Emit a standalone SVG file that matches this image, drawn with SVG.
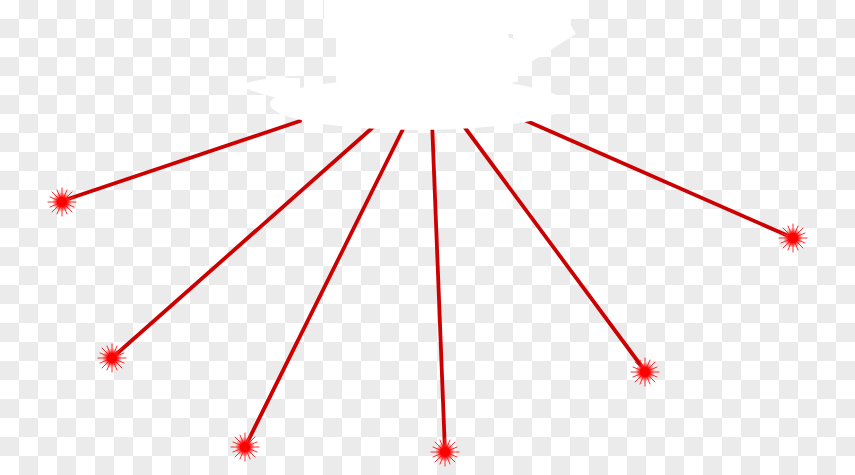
<svg xmlns="http://www.w3.org/2000/svg" xmlns:xlink="http://www.w3.org/1999/xlink" width="855" height="475" viewBox="0 0 855 475">
<style>
.beam{stroke:#cc0000;stroke-width:3.8;stroke-linecap:round;fill:none}
.ray{stroke:#ff2a2a;stroke-width:1;stroke-linecap:round}
.ufo{fill:#ffffff;stroke:none}
</style>
<defs>
<pattern id="checker" x="0" y="0" width="38" height="38" patternUnits="userSpaceOnUse">
<rect width="38" height="38" fill="#ffffff"/>
<rect x="19" y="0" width="19" height="19" fill="#ebebeb"/>
<rect x="0" y="19" width="19" height="19" fill="#ebebeb"/>
</pattern>
<radialGradient id="glow">
<stop offset="0" stop-color="#ff0000"/>
<stop offset="0.5" stop-color="#ff1010"/>
<stop offset="1" stop-color="#ff3030" stop-opacity="0"/>
</radialGradient>
<symbol id="burst" viewBox="-16 -16 32 32" width="32" height="32" overflow="visible">
<g class="ray">
<line x1="0" y1="-4" x2="0" y2="-14"/>
<line x1="0" y1="4" x2="0" y2="14"/>
<line x1="-4" y1="0" x2="-14" y2="0"/>
<line x1="4" y1="0" x2="14" y2="0"/>
<line x1="3" y1="-3" x2="10" y2="-10"/>
<line x1="-3" y1="-3" x2="-10" y2="-10"/>
<line x1="3" y1="3" x2="10" y2="10"/>
<line x1="-3" y1="3" x2="-10" y2="10"/>
<line x1="1.5" y1="-3.7" x2="5" y2="-12"/>
<line x1="-1.5" y1="-3.7" x2="-5" y2="-12"/>
<line x1="1.5" y1="3.7" x2="5" y2="12"/>
<line x1="-1.5" y1="3.7" x2="-5" y2="12"/>
<line x1="3.7" y1="-1.5" x2="12" y2="-5"/>
<line x1="-3.7" y1="-1.5" x2="-12" y2="-5"/>
<line x1="3.7" y1="1.5" x2="12" y2="5"/>
<line x1="-3.7" y1="1.5" x2="-12" y2="5"/>
</g>
<circle r="10" fill="url(#glow)"/>
<circle r="5" fill="#ff0000"/>
</symbol>
</defs>
<rect id="background" width="855" height="475" fill="url(#checker)"/>
<g id="beams">
<line class="beam" x1="300" y1="121" x2="62" y2="201"/>
<line class="beam" x1="380" y1="121" x2="112" y2="358"/>
<line class="beam" x1="407" y1="121" x2="245" y2="447"/>
<line class="beam" x1="432" y1="121" x2="445" y2="452"/>
<line class="beam" x1="460" y1="121" x2="645" y2="371"/>
<line class="beam" x1="520" y1="118" x2="793" y2="238"/>
</g>
<g id="ufo">
<rect class="ufo" x="324" y="-12" width="247" height="46" rx="14"/>
<path class="ufo" d="M336 26 L505 26 L510 40 L570 24 L576 34 L518 70 L518 82 L336 82 Z"/>
<ellipse class="ufo" cx="418" cy="104" rx="148" ry="26"/>
<path class="ufo" d="M240 86 Q260 76 300 78 L300 102 Q262 96 240 86 Z"/>
</g>
<g id="burst-1"><use xlink:href="#burst" x="46" y="186"/></g>
<g id="burst-2"><use xlink:href="#burst" x="96" y="342"/></g>
<g id="burst-3"><use xlink:href="#burst" x="229" y="431"/></g>
<g id="burst-4"><use xlink:href="#burst" x="429" y="436"/></g>
<g id="burst-5"><use xlink:href="#burst" x="629" y="356"/></g>
<g id="burst-6"><use xlink:href="#burst" x="777" y="222"/></g>
</svg>
